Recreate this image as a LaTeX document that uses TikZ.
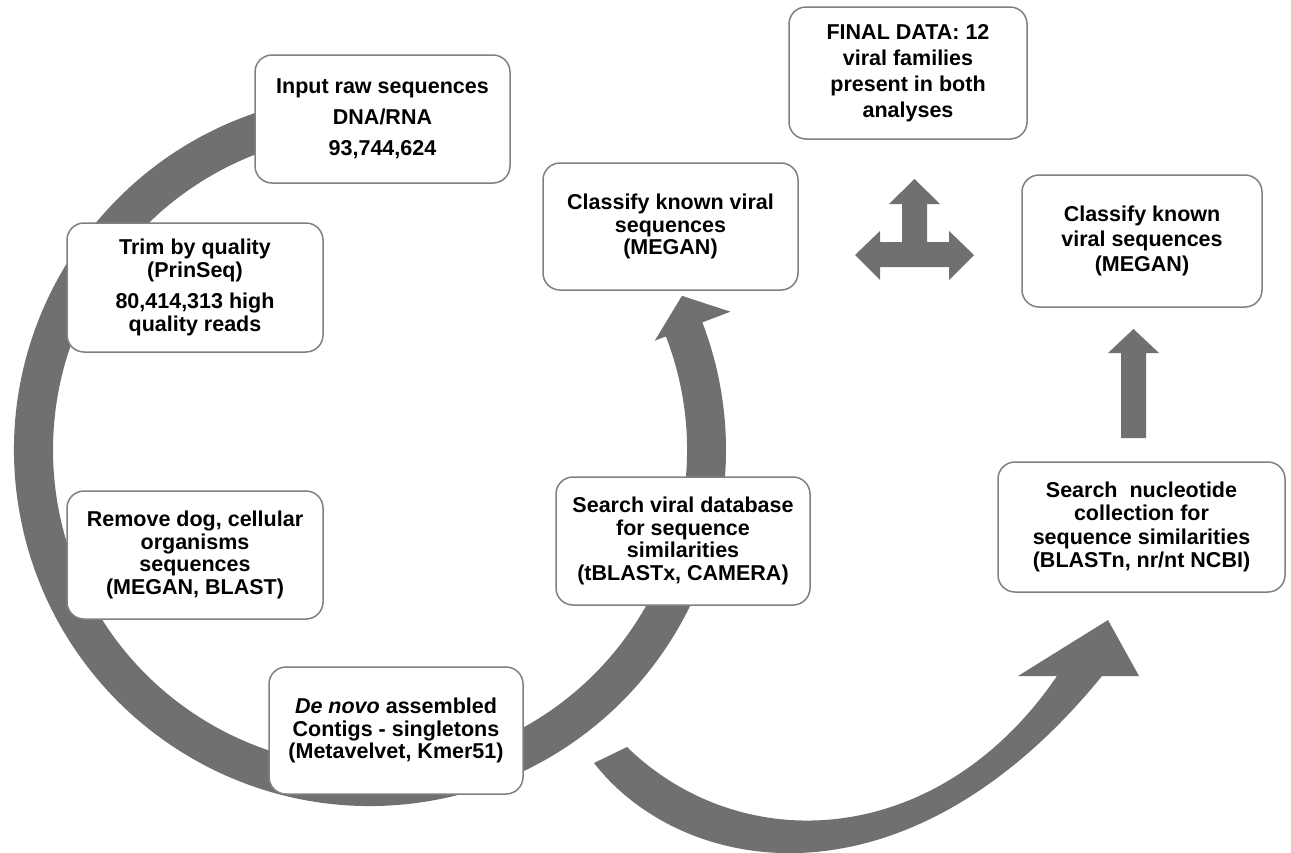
\documentclass[tikz,border=0pt]{standalone}
\usepackage{fontspec}
\setmainfont{Liberation Sans}
\usetikzlibrary{calc}
\definecolor{arrowgray}{RGB}{112,112,112}
\definecolor{boxline}{RGB}{128,128,128}
\begin{document}
\begin{tikzpicture}[x=1pt,y=-1pt,
  box/.style={draw=boxline, line width=1.5pt, fill=white, rounded corners=17pt,
    align=center, inner sep=0pt, font=\fontsize{21.5}{22.8}\selectfont\bfseries},
  bigarrow/.style={fill=arrowgray, draw=none}]
\useasboundingbox (0,0) rectangle (1291,852);
% big circular arrow
\coordinate (C) at (370,450);
\fill[bigarrow] ($(C)+(-100:356)$) arc[start angle=-100,end angle=-381,radius=356]
  -- ($(C)+(-381:386)$) -- ($(C)+(-386.3:348)$) -- ($(C)+(-381:305)$)
  -- ($(C)+(-381:317)$) arc[start angle=-381,end angle=-100,radius=317] -- cycle;
% lower curved arrow
\fill[bigarrow] (594,763) .. controls (681,875) and (904,919) .. (1102,676)
  -- (1139,676) -- (1108,620) -- (1018,676) -- (1057,676)
  .. controls (939,849) and (742,859) .. (627,747) -- cycle;
% three-way arrow
\fill[bigarrow] (914.5,179) -- (940,204) -- (927,204) -- (927,242) -- (949,242) -- (949,231)
  -- (974,255) -- (949,280) -- (949,267) -- (880,267) -- (880,280) -- (855,255)
  -- (880,231) -- (880,242) -- (902,242) -- (902,204) -- (889,204) -- cycle;
% up arrow
\fill[bigarrow] (1133.5,329) -- (1159,353) -- (1146,353) -- (1146,438) -- (1121,438)
  -- (1121,353) -- (1108,353) -- cycle;
% boxes
\node[box, minimum width=255pt, minimum height=128pt] (input) at (382.5,119)
  {Input raw sequences\\[8pt]DNA/RNA\\[8pt]93,744,624};
\node[box, minimum width=256pt, minimum height=129pt] (trim) at (195,287.5)
  {Trim by quality\\(PrinSeq)\\[9pt]80,414,313 high\\quality reads};
\node[box, minimum width=256pt, minimum height=128pt] (remove) at (195,555)
  {Remove dog, cellular\\organisms\\sequences\\(MEGAN, BLAST)};
\node[box, minimum width=254pt, minimum height=127pt] (denovo) at (396,730.5)
  {\textit{De novo} assembled\\Contigs - singletons\\(Metavelvet, Kmer51)};
\node[box, minimum width=254pt, minimum height=128pt] (searchv) at (683,541)
  {Search viral database\\for sequence\\similarities\\(tBLASTx, CAMERA)};
\node[box, minimum width=255pt, minimum height=127pt] (classl) at (670.5,226.5)
  {Classify known viral\\sequences\\(MEGAN)};
\node[box, minimum width=238pt, minimum height=132pt,
  font=\fontsize{21.5}{26}\selectfont\bfseries] (final) at (908,73)
  {FINAL DATA: 12\\viral families\\present in both\\analyses};
\node[box, minimum width=240pt, minimum height=132pt,
  font=\fontsize{21.5}{25}\selectfont\bfseries] (classr) at (1142,241)
  {Classify known\\viral sequences\\(MEGAN)};
\node[box, minimum width=287pt, minimum height=130pt,
  font=\fontsize{21.5}{23.5}\selectfont\bfseries] (searchn) at (1141.5,527)
  {Search\ \ nucleotide\\collection for\\sequence similarities\\(BLASTn, nr/nt NCBI)};
\end{tikzpicture}
\end{document}
